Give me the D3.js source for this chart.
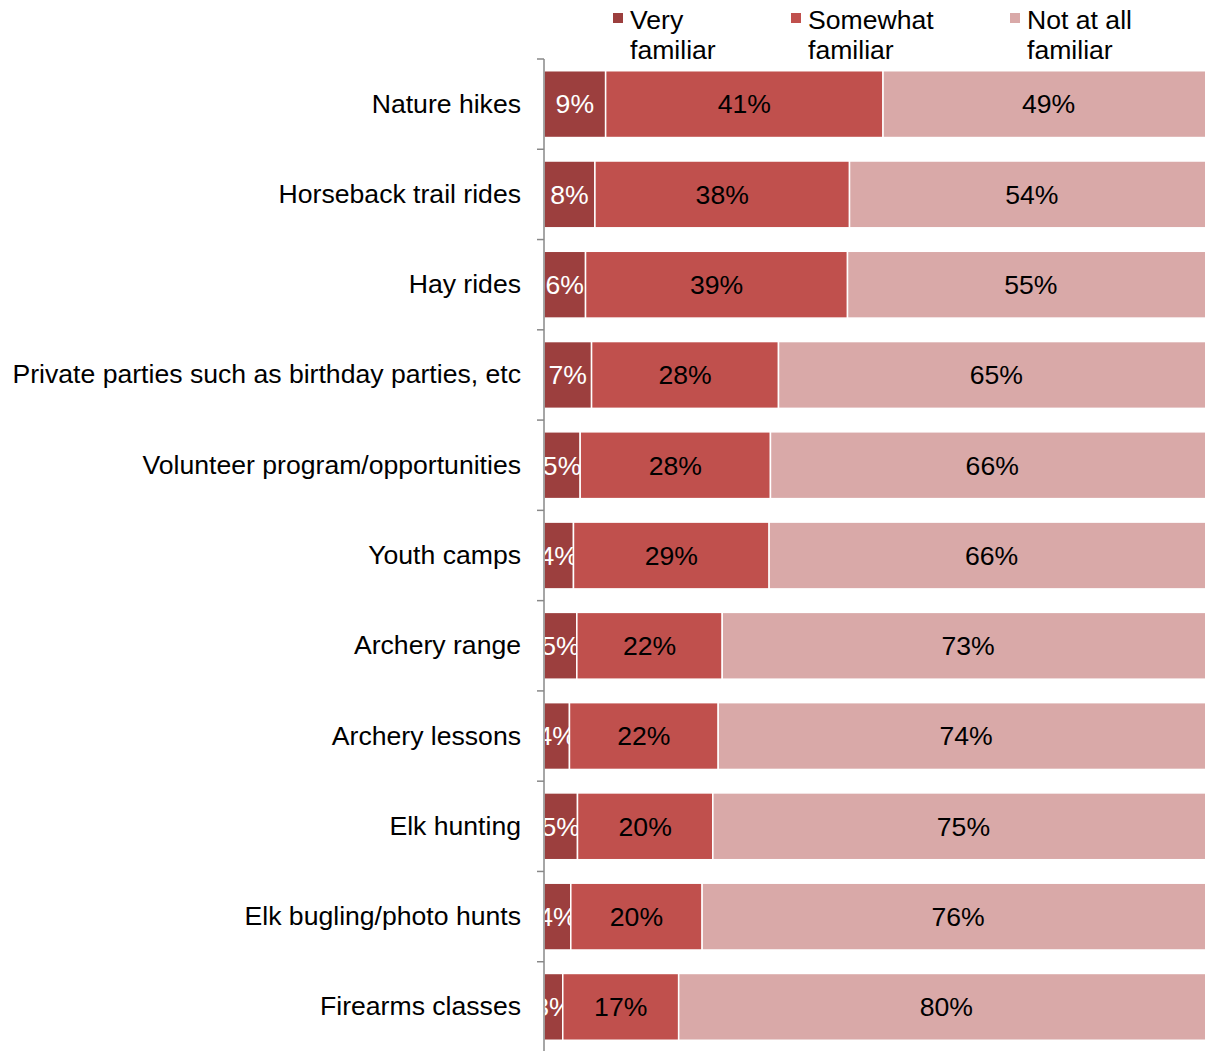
<!DOCTYPE html>
<html>
<head>
<meta charset="utf-8">
<script src="https://cdn.jsdelivr.net/npm/d3@7"></script>
<style>
  body { margin: 0; background: #fff; }
  svg { display: block; font-family: "Liberation Sans", Arial, sans-serif; }
</style>
</head>
<body>
<div id="chart"></div>
<script>
// Familiarity with activities, 100% stacked bars

const categories = [
  "Nature hikes",
  "Horseback trail rides",
  "Hay rides",
  "Private parties such as birthday parties, etc",
  "Volunteer program/opportunities",
  "Youth camps",
  "Archery range",
  "Archery lessons",
  "Elk hunting",
  "Elk bugling/photo hunts",
  "Firearms classes"
];
const seriesNames = ["Very familiar", "Somewhat familiar", "Not at all familiar"];
const veryFamiliar     = [9.2, 7.6, 6.2, 7.1, 5.4, 4.4, 4.9, 3.8, 5.0, 4.0, 2.8];
const somewhatFamiliar = [41.4, 38.0, 39.1, 27.9, 28.4, 29.2, 21.7, 22.2, 20.2, 19.6, 17.3];
const notAtAllFamiliar = [49.4, 54.4, 54.7, 65.0, 66.2, 66.4, 73.4, 74.0, 74.8, 76.4, 79.9];

const colors = ["#9c3f3e", "#c0504d", "#d9a9a8"];
const labelColors = ["#fff", "#000", "#000"];
const fontSize = 26.6;

const width = 1205, height = 1051;
const plot = {left: 544, right: 1214, top: 59, bottom: 1052};

// build rows for d3.stack
const rows = categories.map((c, i) => ({
  category: c,
  "Very familiar": veryFamiliar[i],
  "Somewhat familiar": somewhatFamiliar[i],
  "Not at all familiar": notAtAllFamiliar[i]
}));
const stacked = d3.stack().keys(seriesNames)(rows);

const svg = d3.select("#chart")
  .append("svg")
  .attr("width", width)
  .attr("height", height);

const x = d3.scaleLinear().domain([0, 100]).range([plot.left, plot.right]);
const y = d3.scaleBand()
  .domain(categories)
  .range([plot.top, plot.bottom])
  .paddingInner(0.26)
  .paddingOuter(0.13);

svg.append("clipPath")
  .attr("id", "plotclip")
  .append("rect")
  .attr("x", plot.left)
  .attr("y", 0)
  .attr("width", plot.right - plot.left)
  .attr("height", height);

const layers = svg.append("g")
  .attr("clip-path", "url(#plotclip)")
  .selectAll("g.layer")
  .data(stacked)
  .join("g")
  .attr("class", "layer");

layers.each(function(layer, li) {
  const g = d3.select(this);
  g.selectAll("rect")
    .data(layer)
    .join("rect")
    .attr("x", d => x(d[0]))
    .attr("y", d => y(d.data.category))
    .attr("width", d => x(d[1]) - x(d[0]))
    .attr("height", y.bandwidth())
    .attr("fill", colors[li])
    .attr("stroke", "#fff")
    .attr("stroke-width", 1.5);

  g.selectAll("text")
    .data(layer)
    .join("text")
    .attr("x", d => (x(d[0]) + x(d[1])) / 2)
    .attr("y", d => y(d.data.category) + y.bandwidth() / 2)
    .attr("dy", "0.35em")
    .attr("text-anchor", "middle")
    .attr("font-size", fontSize)
    .attr("fill", labelColors[li])
    .text(d => Math.round(d[1] - d[0]) + "%");
});

// category axis: labels only
const yAxis = svg.append("g")
  .attr("transform", `translate(${plot.left},0)`)
  .call(d3.axisLeft(y).tickSize(0).tickPadding(23));
yAxis.select(".domain").remove();
yAxis.selectAll("text")
  .attr("font-size", fontSize)
  .attr("font-family", "Liberation Sans, Arial, sans-serif")
  .attr("fill", "#000");

// axis line and ticks between categories
const axisColor = "#888";
svg.append("line")
  .attr("x1", plot.left).attr("x2", plot.left)
  .attr("y1", plot.top).attr("y2", plot.bottom)
  .attr("stroke", axisColor)
  .attr("stroke-width", 1.5);
svg.selectAll("line.tick-mark")
  .data(d3.range(categories.length + 1))
  .join("line")
  .attr("class", "tick-mark")
  .attr("x1", plot.left - 7).attr("x2", plot.left)
  .attr("y1", i => plot.top + i * y.step())
  .attr("y2", i => plot.top + i * y.step())
  .attr("stroke", axisColor)
  .attr("stroke-width", 1.5);

// legend
const legendX = [613, 791, 1010];
const legendLines = [["Very", "familiar"], ["Somewhat", "familiar"], ["Not at all", "familiar"]];
const legend = svg.append("g")
  .selectAll("g")
  .data(seriesNames)
  .join("g")
  .attr("transform", (d, i) => `translate(${legendX[i]},0)`);
legend.append("rect")
  .attr("x", 0).attr("y", 13)
  .attr("width", 10).attr("height", 10)
  .attr("fill", (d, i) => colors[i]);
legend.append("text")
  .attr("font-size", fontSize)
  .attr("fill", "#000")
  .selectAll("tspan")
  .data((d, i) => legendLines[i])
  .join("tspan")
  .attr("x", 17)
  .attr("y", (d, j) => 29 + j * 30)
  .text(d => d);
</script>
</body>
</html>
